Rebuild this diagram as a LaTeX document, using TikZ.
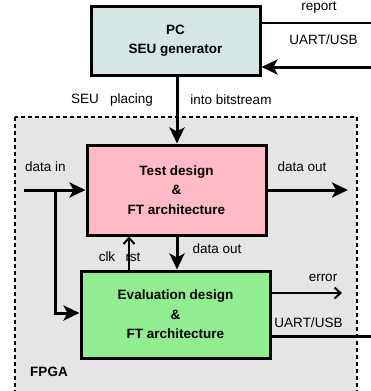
\documentclass[tikz,border=0pt]{standalone}
\usepackage{fontspec}
\setmainfont{Liberation Sans}
\usetikzlibrary{arrows.meta}
\definecolor{pcfill}{HTML}{D6E6E5}
\definecolor{testfill}{HTML}{FFBAC6}
\definecolor{evalfill}{HTML}{90EE90}
\definecolor{fpgafill}{HTML}{E5E5E5}
\begin{document}
\begin{tikzpicture}[x=1pt,y=-1pt,
  every node/.style={font=\fontsize{13.5}{19.5}\selectfont},
  blockbox/.style={draw=black,line width=3pt,rectangle,align=center,font=\fontsize{13.5}{19.5}\selectfont\bfseries,inner sep=0pt},
  thickline/.style={line width=3pt},
  bigtip/.style={-{Stealth[length=16pt,width=15pt,inset=4pt]}},
  thinline/.style={line width=2pt,-{Straight Barb[length=6pt,width=11pt]}},
  lbl/.style={inner sep=0pt}]
\useasboundingbox (0,0) rectangle (371,391);
\clip (0,0) rectangle (371,391);
% FPGA region
\draw[fill=fpgafill,line width=2.5pt,dash pattern=on 4pt off 3pt] (15,117) rectangle (357,410);
\node[lbl,font=\fontsize{13.5}{16}\selectfont\bfseries] (fpgalbl) at (49,372) {FPGA};
% blocks
\node[blockbox,fill=pcfill,minimum width=169pt,minimum height=69pt] (pc) at (175.5,40.5) {PC\\SEU generator};
\node[blockbox,fill=testfill,minimum width=179pt,minimum height=90pt] (test) at (176.5,190) {Test design\\\&\\FT architecture};
\node[blockbox,fill=evalfill,minimum width=189pt,minimum height=87pt] (eval) at (175.5,314.5) {Evaluation design\\\&\\FT architecture};
% coordinates
\coordinate (din) at (24,190);
\coordinate (branch) at (55,190);
\coordinate (dout) at (348,190);
\coordinate (errend) at (342,293);
\coordinate (uartbot) at (375,336);
\coordinate (reportend) at (375,23);
\coordinate (uarttop) at (375,67);
% connectors
\draw[thickline,bigtip] (pc.south -| 177,0) -- (test.north -| 177,0);
\draw[thickline,bigtip] (din) -- (test.west);
\draw[thickline,bigtip] (branch) |- (eval.west |- 0,313);
\draw[thickline,bigtip] (test.east) -- (dout);
\draw[thickline,bigtip] (test.south -| 177,0) -- (eval.north -| 177,0);
\draw[thinline] (eval.north -| 129,0) -- (test.south -| 129,0);
\draw[thinline] (eval.east |- 0,293) -- (errend);
\draw[thickline] (eval.east |- 0,336) -- (uartbot);
\draw[line width=2.5pt] (pc.east |- 0,23) -- (reportend);
\draw[thickline,bigtip] (uarttop) -- (pc.east |- 0,67);
% labels
\node[lbl] (lreport) at (319,8) {report};
\node[lbl] (luarttop) at (323.5,40) {UART/USB};
\node[lbl] (lseu) at (112,100) {SEU\ \ \ placing};
\node[lbl] (linto) at (231,100) {into bitstream};
\node[lbl] (ldin) at (45.5,167) {data in};
\node[lbl] (ldout) at (302,167) {data out};
\node[lbl] (ldout2) at (217,249) {data out};
\node[lbl] (lclk) at (107,257) {clk};
\node[lbl] (lrst) at (133,257) {rst};
\node[lbl] (lerr) at (323,278) {error};
\node[lbl] (luartbot) at (308.5,323) {UART/USB};
\end{tikzpicture}
\end{document}
